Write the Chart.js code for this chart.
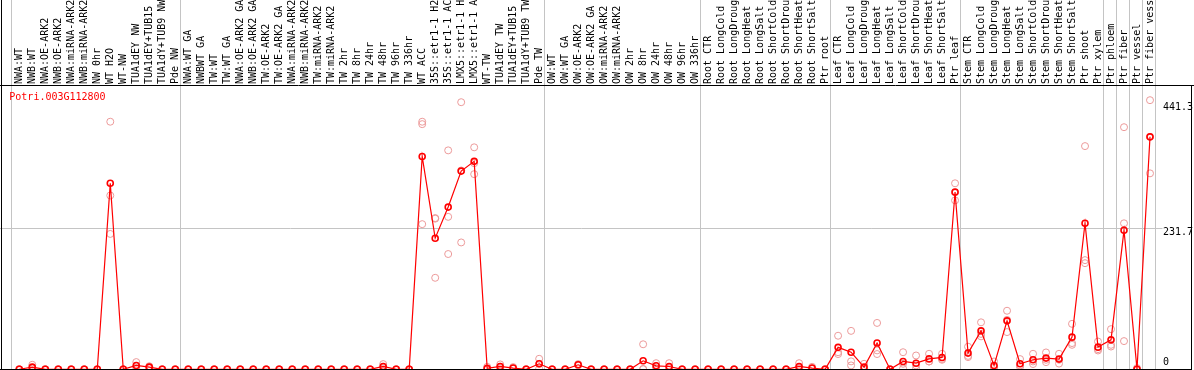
<!DOCTYPE html>
<html>
<head>
<meta charset="utf-8">
<script src="https://cdn.jsdelivr.net/npm/chart.js@4.4.1/dist/chart.umd.min.js"></script>
<style>
    html, body { margin: 0; padding: 0; background: #fff; }
    #wrap { width: 1194px; height: 370px; position: relative; }
</style>
</head>
<body>
<div id="wrap"><canvas id="chart"></canvas></div>
<script>
'use strict';

const geneId = 'Potri.003G112800';

const categories = [
    'NWA:WT', 'NWB:WT', 'NWA:OE-ARK2', 'NWB:OE-ARK2', 'NWA:miRNA-ARK2', 'NWB:miRNA-ARK2',
    'NW 0hr', 'WT H2O', 'WT-NW', 'TUA1dEY NW', 'TUA1dEY+TUB15 NW', 'TUA1dY+TUB9 NW', 'Pde NW',
    'NWA:WT GA', 'NWBWT GA', 'TW:WT', 'TW:WT GA', 'NWA:OE-ARK2 GA', 'NWB:OE-ARK2 GA',
    'TW:OE-ARK2', 'TW:OE-ARK2 GA', 'NWA:miRNA-ARK2 GA', 'NWB:miRNA-ARK2 GA', 'TW:miRNA-ARK2',
    'TW:miRNA-ARK2 GA', 'TW 2hr', 'TW 8hr', 'TW 24hr', 'TW 48hr', 'TW 96hr', 'TW 336hr',
    'WT ACC', '35S::etr1-1 H2O', '35S::etr1-1 ACC', 'LMX5::etr1-1 H2O', 'LMX5::etr1-1 ACC',
    'WT-TW', 'TUA1dEY TW', 'TUA1dEY+TUB15 TW', 'TUA1dY+TUB9 TW', 'Pde TW',
    'OW:WT', 'OW:WT GA', 'OW:OE-ARK2', 'OW:OE-ARK2 GA', 'OW:miRNA-ARK2', 'OW:miRNA-ARK2 GA',
    'OW 2hr', 'OW 8hr', 'OW 24hr', 'OW 48hr', 'OW 96hr', 'OW 336hr',
    'Root CTR', 'Root LongCold', 'Root LongDrought', 'Root LongHeat', 'Root LongSalt',
    'Root ShortCold', 'Root ShortDrought', 'Root ShortHeat', 'Root ShortSalt', 'Ptr root',
    'Leaf CTR', 'Leaf LongCold', 'Leaf LongDrought', 'Leaf LongHeat', 'Leaf LongSalt',
    'Leaf ShortCold', 'Leaf ShortDrought', 'Leaf ShortHeat', 'Leaf ShortSalt', 'Ptr leaf',
    'Stem CTR', 'Stem LongCold', 'Stem LongDrought', 'Stem LongHeat', 'Stem LongSalt',
    'Stem ShortCold', 'Stem ShortDrought', 'Stem ShortHeat', 'Stem ShortSalt', 'Ptr shoot',
    'Ptr xylem', 'Ptr phloem', 'Ptr fiber', 'Ptr vessel', 'Ptr fiber vessel'
];

// last category (1-based) of each sample group
const groupEnds = [13, 41, 53, 63, 73, 84, 85, 86, 87, 88];

// mean expression per sample
const means = [
    0, 3.6, 0, 0, 0, 0, 0, 305, 0, 6.3, 3.6, 0, 0,
    0, 0, 0, 0, 0, 0, 0, 0, 0, 0, 0, 0, 0, 0, 0, 4.6, 0, 0,
    349, 215, 266, 325, 341, 1.5, 4.6, 2, 0, 9,
    0, 0, 7.4, 0, 0, 0, 0, 13.9, 5.7, 4.6, 0, 0,
    0, 0, 0, 0, 0, 0, 0, 4.6, 2, 0,
    36, 28, 3.6, 43, 0, 12.8, 10, 17, 19.4, 290.6,
    26.5, 63, 6.3, 79.4, 9, 15.6, 18.3, 16.7, 52.7, 239.4,
    36.3, 48.3, 227.9, 0, 381.2
];

// individual replicates
const rep1 = [
    0, 7.4, 0, 0, 0, 0, 0, 406, 0, 11.8, 5, 0, 0,
    0, 0, 0, 0, 0, 0, 0, 0, 0, 0, 0, 0, 0, 0, 0, 8.5, 0, 0,
    406, 247, 359, 438, 364, 4, 8, 3.6, 0, 17.2,
    0, 0, 8.5, 0, 0, 0, 0, 41, 10, 10, 0, 0,
    0, 0, 0, 0, 0, 0, 0, 10, 4, 0,
    55, 63, 9, 76, 0, 28, 22.6, 25.4, 25.4, 305,
    37, 77, 12.8, 96, 16.7, 25.4, 27.6, 25.4, 74.5, 366,
    45.5, 65.8, 397, 2, 441.3
];
const rep2 = [
    0, 2.5, 0, 0, 0, 0, 0, 285, 0, 5, 4, 0, 0,
    0, 0, 0, 0, 0, 0, 0, 0, 0, 0, 0, 0, 0, 0, 0, 3.5, 0, 0,
    402, 248, 250, 326, 338, 0.5, 4, 1.5, 0, 9,
    0, 0, 7.4, 0, 0, 0, 0, 0.5, 5, 2.5, 0, 0,
    0, 0, 0, 0, 0, 0, 0, 2.5, 1.5, 0,
    28, 13, 1, 31, 0, 9, 6.3, 12.8, 15.6, 290,
    22, 58, 3.6, 81, 6.3, 12.8, 15.6, 15.6, 43, 179,
    33, 40.1, 239.4, 0, 381
];
const rep3 = [
    0, 1, 0, 0, 0, 0, 0, 222, 0, 2, 1.8, 0, 0,
    0, 0, 0, 0, 0, 0, 0, 0, 0, 0, 0, 0, 0, 0, 0, 1.8, 0, 0,
    238, 150, 189, 208, 320, 0, 1.8, 1, 0, 1,
    0, 0, 6.3, 0, 0, 0, 0, 0.2, 2, 1.3, 0, 0,
    0, 0, 0, 0, 0, 0, 0, 1.3, 0.5, 0,
    25, 6.3, 0.8, 25, 0, 1.4, 1, 12.8, 17, 277,
    20, 54, 2.5, 61, 4, 8.6, 11.7, 9.3, 40.1, 174,
    30.8, 37.3, 46.2, 0, 321.3
];

const yTicks = [0, 231.7, 441.3];

const MONO = "'DejaVu Sans Mono', monospace";
const RED = '#ff0000';
const PINK = '#ec9a9a';
const GRID = '#c4c4c4';

function hline(ctx, y, x1, x2) {
    ctx.beginPath();
    ctx.moveTo(x1, y);
    ctx.lineTo(x2, y);
    ctx.stroke();
}

function vline(ctx, x, y1, y2) {
    ctx.beginPath();
    ctx.moveTo(x, y1);
    ctx.lineTo(x, y2);
    ctx.stroke();
}

// group separators, middle grid line, frame, value labels and gene id
const framePlugin = {
    id: 'frame',
    beforeDatasetsDraw(chart) {
        const { ctx, chartArea, scales: { x, y } } = chart;
        ctx.save();
        ctx.lineWidth = 1;
        ctx.strokeStyle = GRID;
        [0].concat(groupEnds).forEach(n => {
            const mid = (x.getPixelForValue(n - 1) + x.getPixelForValue(n)) / 2 - 1.5;
            vline(ctx, Math.round(mid) + 0.5, 0, chart.height);
        });
        yTicks.slice(1, -1).forEach(v => {
            hline(ctx, Math.round(y.getPixelForValue(v)) + 0.5, 0, chartArea.right + 6);
        });
        ctx.restore();
    },
    afterDatasetsDraw(chart) {
        const { ctx, chartArea, scales: { y } } = chart;
        const w = chart.width;
        const top = chartArea.top + 0.5;
        const bottom = Math.round(y.getPixelForValue(0)) + 0.5;
        ctx.save();
        ctx.lineWidth = 1;
        ctx.strokeStyle = '#000';
        hline(ctx, top, 0, w);
        hline(ctx, bottom, 0, w - 2);
        vline(ctx, 1.5, 0, chart.height);
        vline(ctx, w - 2.5, top, chart.height);

        ctx.font = '10px ' + MONO;
        ctx.textBaseline = 'middle';
        ctx.textAlign = 'left';
        ctx.fillStyle = '#000';
        yTicks.forEach((v, i) => {
            const shift = i === 0 ? -7 : (i === yTicks.length - 1 ? 7 : 4);
            ctx.fillText(String(v), chartArea.right + 6.5, y.getPixelForValue(v) + shift);
        });

        ctx.fillStyle = RED;
        ctx.fillText(geneId, chartArea.left - 3.5, chartArea.top + 12);
        ctx.restore();
    }
};

function replicateSet(values) {
    return {
        data: values,
        showLine: false,
        clip: false,
        pointRadius: 3.5,
        pointBorderWidth: 1,
        pointBorderColor: PINK,
        pointBackgroundColor: 'rgba(0,0,0,0)',
        order: 1
    };
}

const ctx = document.getElementById('chart').getContext('2d');

new Chart(ctx, {
    type: 'line',
    data: {
        labels: categories,
        datasets: [
            {
                data: means,
                clip: false,
                borderColor: RED,
                borderWidth: 1.2,
                tension: 0,
                pointRadius: 3,
                pointBorderWidth: 1.6,
                pointBorderColor: RED,
                pointBackgroundColor: 'rgba(0,0,0,0)',
                order: 0
            },
            replicateSet(rep1),
            replicateSet(rep2),
            replicateSet(rep3)
        ]
    },
    options: {
        responsive: true,
        maintainAspectRatio: false,
        animation: false,
        devicePixelRatio: 1,
        layout: { padding: { left: 12.8, right: 37.5, top: 0, bottom: 0 } },
        plugins: {
            legend: { display: false },
            tooltip: { enabled: false },
            title: { display: false }
        },
        scales: {
            x: {
                type: 'category',
                position: 'top',
                offset: true,
                grid: { display: false, drawTicks: false },
                border: { display: false },
                ticks: {
                    autoSkip: false,
                    minRotation: 90,
                    maxRotation: 90,
                    padding: 1,
                    labelOffset: 12,
                    color: '#000',
                    font: { family: MONO, size: 10 }
                },
                afterFit(scale) {
                    scale.height = 85;
                }
            },
            // the layout keeps a few px free under the plot; zero sits inside that strip
            y: {
                type: 'linear',
                display: false,
                min: 8,
                max: 466.2
            }
        }
    },
    plugins: [framePlugin]
});
</script>
</body>
</html>
